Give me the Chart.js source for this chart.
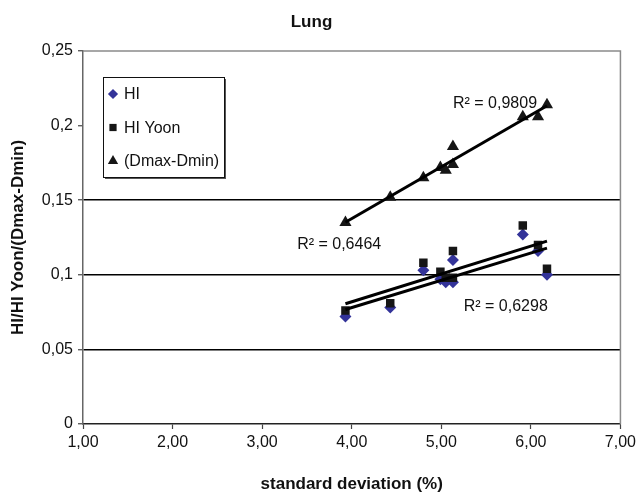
<!DOCTYPE html>
<html>
<head>
<meta charset="utf-8">
<script src="https://cdn.jsdelivr.net/npm/chart.js@4/dist/chart.umd.min.js"></script>
<style>
  html, body { margin: 0; padding: 0; background: #fff; }
  #wrap { width: 640px; height: 498px; }
</style>
</head>
<body>
<div id="wrap"><canvas id="chart" width="640" height="498"></canvas></div>
<script>
// Labels
const chartTitle = 'Lung';
const xAxisTitle = 'standard deviation (%)';
const yAxisTitle = 'HI/HI Yoon/(Dmax-Dmin)';
const seriesNames = ['HI', 'HI Yoon', '(Dmax-Dmin)'];

// Measurements per plan: standard deviation (%) and the three indices
const stdDeviation = [3.93, 4.43, 4.80, 4.99, 5.05, 5.13, 5.13, 5.91, 6.08, 6.18];
const hiValues     = [0.072, 0.078, 0.103, 0.097, 0.095, 0.110, 0.095, 0.127, 0.116, 0.100];
const hiYoonValues = [0.076, 0.081, 0.108, 0.102, 0.098, 0.116, 0.098, 0.133, 0.120, 0.104];
const doseRange    = [0.135, 0.152, 0.165, 0.172, 0.170, 0.186, 0.174, 0.206, 0.206, 0.214];

// Axis ticks
const xTicks = [1, 2, 3, 4, 5, 6, 7];
const yTicks = [0, 0.05, 0.1, 0.15, 0.2, 0.25];
const yGridValues = [0.05, 0.1, 0.15];

// Coefficient of determination of each linear trend
const r2Texts = ['R\u00B2 = 0,9809', 'R\u00B2 = 0,6464', 'R\u00B2 = 0,6298'];

const FONT = "'Liberation Sans', Arial, sans-serif";

function toPoints(xs, ys) {
  return xs.map((x, i) => ({ x: x, y: ys[i] }));
}

// Least-squares line evaluated at the smallest and largest x
function trendLine(xs, ys) {
  const n = xs.length;
  const mx = xs.reduce((a, b) => a + b, 0) / n;
  const my = ys.reduce((a, b) => a + b, 0) / n;
  let sxy = 0, sxx = 0;
  for (let i = 0; i < n; i++) {
    sxy += (xs[i] - mx) * (ys[i] - my);
    sxx += (xs[i] - mx) * (xs[i] - mx);
  }
  const slope = sxy / sxx;
  const x0 = Math.min(...xs), x1 = Math.max(...xs);
  return [
    { x: x0, y: my + slope * (x0 - mx) },
    { x: x1, y: my + slope * (x1 - mx) }
  ];
}

const markerStyles = [
  { pointStyle: 'rectRot', radius: 6, color: '#333399' },
  { pointStyle: 'rect', radius: 6, color: '#161616' },
  { pointStyle: 'triangle', radius: 7, color: '#161616' }
];

const seriesValues = [hiValues, hiYoonValues, doseRange];

const datasets = [];
seriesValues.forEach((vals, i) => {
  const m = markerStyles[i];
  datasets.push({
    type: 'scatter',
    label: seriesNames[i],
    data: toPoints(stdDeviation, vals),
    pointStyle: m.pointStyle,
    pointRadius: m.radius,
    pointBackgroundColor: m.color,
    pointBorderColor: m.color,
    pointBorderWidth: 0,
    showLine: false,
    order: 3 - i
  });
});
seriesValues.forEach((vals, i) => {
  datasets.push({
    type: 'scatter',
    label: 'trend ' + seriesNames[i],
    data: trendLine(stdDeviation, vals),
    showLine: true,
    borderColor: '#000',
    borderWidth: 3,
    pointRadius: 0,
    fill: false,
    order: 0
  });
});

// Where each R² text sits, in data units
const r2Anchors = [
  { x: 5.60, y: 0.2150 },
  { x: 3.86, y: 0.1200 },
  { x: 5.72, y: 0.0790 }
];

const plotFrame = {
  id: 'plotFrame',
  beforeDatasetsDraw(chart) {
    const { ctx, chartArea: a } = chart;
    ctx.save();
    ctx.strokeStyle = '#8a8a8a';
    ctx.lineWidth = 1.5;
    ctx.beginPath();
    ctx.moveTo(a.left, a.top);
    ctx.lineTo(a.right, a.top);
    ctx.lineTo(a.right, a.bottom);
    ctx.stroke();
    ctx.restore();
  }
};

const r2Labels = {
  id: 'r2Labels',
  afterDatasetsDraw(chart) {
    const { ctx, scales } = chart;
    ctx.save();
    ctx.fillStyle = '#111';
    ctx.font = '16px ' + FONT;
    ctx.textAlign = 'center';
    ctx.textBaseline = 'middle';
    r2Texts.forEach((t, i) => {
      const px = scales.x.getPixelForValue(r2Anchors[i].x);
      const py = scales.y.getPixelForValue(r2Anchors[i].y);
      ctx.fillText(t, px, py);
    });
    ctx.restore();
  }
};

const boxLegend = {
  id: 'boxLegend',
  afterDraw(chart) {
    const { ctx, chartArea: a } = chart;
    const left = a.left + 20, top = a.top + 26, w = 121, h = 100;
    ctx.save();
    // shadow
    ctx.fillStyle = '#555';
    ctx.fillRect(left + 2, top + 2, w, h);
    ctx.fillStyle = '#fff';
    ctx.fillRect(left, top, w, h);
    ctx.strokeStyle = '#111';
    ctx.lineWidth = 1;
    ctx.strokeRect(left + 0.5, top + 0.5, w, h);
    ctx.font = '16px ' + FONT;
    ctx.textBaseline = 'middle';
    ctx.textAlign = 'left';
    seriesNames.forEach((name, i) => {
      const y = top + 17 + i * 33.5;
      const m = markerStyles[i];
      ctx.fillStyle = m.color;
      ctx.strokeStyle = m.color;
      Chart.helpers.drawPoint(ctx, {
        pointStyle: m.pointStyle,
        radius: m.radius * 0.85,
        borderWidth: 0
      }, left + 10, y);
      ctx.fillStyle = '#111';
      ctx.fillText(name, left + 21, y + 1);
    });
    ctx.restore();
  }
};

const fmtX = v => v.toFixed(2).replace('.', ',');
const fmtY = v => (Math.abs(v) < 1e-9 ? '0' : String(+v.toFixed(2)).replace('.', ','));

new Chart(document.getElementById('chart'), {
  type: 'scatter',
  data: { datasets: datasets },
  options: {
    responsive: false,
    animation: false,
    devicePixelRatio: 1,
    layout: { padding: { left: 0, right: 17, top: 0, bottom: 0 } },
    plugins: {
      legend: { display: false },
      tooltip: { enabled: false },
      title: {
        display: true,
        text: chartTitle,
        color: '#111',
        font: { family: FONT, size: 17, weight: 'bold' },
        padding: { top: 12, bottom: 18.6 }
      }
    },
    scales: {
      x: {
        type: 'linear',
        min: xTicks[0],
        max: xTicks[xTicks.length - 1],
        afterBuildTicks: s => { s.ticks = xTicks.map(v => ({ value: v })); },
        afterFit: s => { s.height = 74; },
        border: { display: true, color: '#222', width: 1.5 },
        grid: { drawOnChartArea: false, color: '#444', tickColor: '#444', tickLength: 5, tickWidth: 1.2 },
        ticks: { color: '#111', font: { family: FONT, size: 16 }, padding: 4, maxRotation: 0, callback: fmtX },
        title: {
          display: true,
          text: xAxisTitle,
          color: '#111',
          font: { family: FONT, size: 17, weight: 'bold' },
          padding: { top: 0, bottom: 3 }
        }
      },
      y: {
        type: 'linear',
        min: yTicks[0],
        max: yTicks[yTicks.length - 1],
        afterBuildTicks: s => { s.ticks = yTicks.map(v => ({ value: v })); },
        afterFit: s => { s.width = 83; },
        border: { display: true, color: '#666', width: 1.5 },
        grid: {
          drawOnChartArea: true,
          color: c => (c.tick && yGridValues.some(g => Math.abs(g - c.tick.value) < 1e-9)) ? '#000' : 'rgba(0,0,0,0)',
          lineWidth: 1.5,
          tickColor: '#444',
          tickLength: 5,
          tickWidth: 1.2
        },
        ticks: { color: '#111', font: { family: FONT, size: 16 }, padding: 5, callback: fmtY },
        title: {
          display: true,
          text: yAxisTitle,
          color: '#111',
          font: { family: FONT, size: 17, weight: 'bold' },
          padding: { top: 8, bottom: 0 }
        }
      }
    }
  },
  plugins: [plotFrame, r2Labels, boxLegend]
});
</script>
</body>
</html>
